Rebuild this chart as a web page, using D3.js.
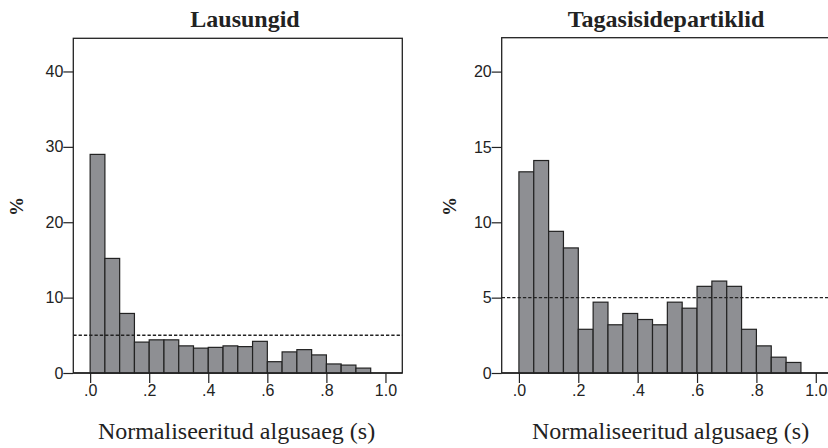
<!DOCTYPE html>
<html>
<head>
<meta charset="utf-8">
<script src="https://cdn.jsdelivr.net/npm/d3@7"></script>
<style>
  body { margin: 0; background: #fff; }
  svg { display: block; }
  .tick text { font-family: "Liberation Sans", Arial, sans-serif; font-size: 16px; fill: #222; }
  .tick line { stroke: #222; stroke-width: 1.2; }
</style>
</head>
<body>
<svg id="chart" width="828" height="448"></svg>
<script>
// bin edges (normalised onset), 0.05 wide
let binStarts = [0, 0.05, 0.1, 0.15, 0.2, 0.25, 0.3, 0.35, 0.4, 0.45, 0.5, 0.55, 0.6, 0.65, 0.7, 0.75, 0.8, 0.85, 0.9];
let binWidth = 0.05;

// percentages
let lausungid = [29.0, 15.2, 7.9, 4.1, 4.4, 4.4, 3.6, 3.3, 3.4, 3.6, 3.5, 4.2, 1.5, 2.8, 3.1, 2.4, 1.2, 1.05, 0.65];
let tagasiside = [13.35, 14.1, 9.4, 8.3, 2.9, 4.7, 3.2, 3.95, 3.55, 3.2, 4.7, 4.3, 5.75, 6.1, 5.75, 2.9, 1.8, 1.05, 0.7];

let xTicks = [0, 0.2, 0.4, 0.6, 0.8, 1.0];
let yTicksLeft = [0, 10, 20, 30, 40];
let yTicksRight = [0, 5, 10, 15, 20];
let refLine = 5; // dashed reference level

let svg = d3.select("#chart");

let drawPanel = (opts) => {
  let x = d3.scaleLinear().domain(opts.xDomain).range([opts.left, opts.right]);
  let y = d3.scaleLinear().domain([0, opts.yMax]).range([373, opts.top]);

  let g = svg.append("g");

  // frame (left, top, right + bottom axis line)
  g.append("rect")
    .attr("x", opts.left)
    .attr("y", opts.top)
    .attr("width", opts.right - opts.left)
    .attr("height", 373 - opts.top)
    .attr("fill", "none")
    .attr("stroke", "#222")
    .attr("stroke-width", 1.3);

  g.selectAll("rect.bar")
    .data(opts.values)
    .enter()
    .append("rect")
    .attr("class", "bar")
    .attr("x", (d, i) => x(binStarts[i]))
    .attr("width", (d, i) => x(binStarts[i] + binWidth) - x(binStarts[i]))
    .attr("y", (d) => y(d))
    .attr("height", (d) => y(0) - y(d))
    .attr("fill", "#8e8f93")
    .attr("stroke", "#222")
    .attr("stroke-width", 1.2);

  g.append("line")
    .attr("x1", opts.left)
    .attr("x2", opts.right)
    .attr("y1", y(refLine))
    .attr("y2", y(refLine))
    .attr("stroke", "#222")
    .attr("stroke-width", 1.4)
    .attr("stroke-dasharray", "3.3,2");

  let yAxis = g.append("g")
    .attr("transform", "translate(" + opts.left + ",0)")
    .call(d3.axisLeft(y).tickValues(opts.yTicks).tickFormat(d3.format("d")).tickSize(10).tickPadding(0));
  yAxis.select(".domain").remove();

  let xAxis = g.append("g")
    .attr("transform", "translate(0,373)")
    .call(d3.axisBottom(x).tickValues(xTicks)
      .tickFormat((d) => d3.format(".1f")(d).replace(/^0/, ""))
      .tickSize(10).tickPadding(2));
  xAxis.select(".domain").remove();

  // bottom axis line
  g.append("line")
    .attr("x1", opts.left).attr("x2", opts.right)
    .attr("y1", 373).attr("y2", 373)
    .attr("stroke", "#222").attr("stroke-width", 1.3);

  g.append("text")
    .attr("x", opts.titleX)
    .attr("y", 27)
    .attr("text-anchor", "middle")
    .attr("font-family", "Liberation Serif, Times New Roman, serif")
    .attr("font-weight", "bold")
    .attr("font-size", 24)
    .attr("fill", "#222")
    .text(opts.title);

  g.append("text")
    .attr("x", opts.labelX)
    .attr("y", 439)
    .attr("text-anchor", "middle")
    .attr("font-family", "Liberation Serif, Times New Roman, serif")
    .attr("font-size", 24)
    .attr("fill", "#222")
    .text("Normaliseeritud algusaeg (s)");

  g.append("text")
    .attr("transform", "translate(" + opts.pctX + ",206.5) rotate(-90)")
    .attr("text-anchor", "middle")
    .attr("font-family", "Liberation Serif, Times New Roman, serif")
    .attr("font-weight", "bold")
    .attr("font-size", 19)
    .attr("fill", "#222")
    .text("%");
};

drawPanel({
  title: "Lausungid",
  values: lausungid,
  xDomain: [-0.057, 1.057],
  left: 73.3, right: 402.3, top: 38.3,
  yMax: 44.4,
  yTicks: yTicksLeft,
  titleX: 245,
  labelX: 236.5,
  pctX: 23
});

drawPanel({
  title: "Tagasisidepartiklid",
  values: tagasiside,
  xDomain: [-0.058, 1.058],
  left: 501.7, right: 833, top: 37.7,
  yMax: 22.25,
  yTicks: yTicksRight,
  titleX: 666,
  labelX: 670.5,
  pctX: 456
});
</script>
</body>
</html>
